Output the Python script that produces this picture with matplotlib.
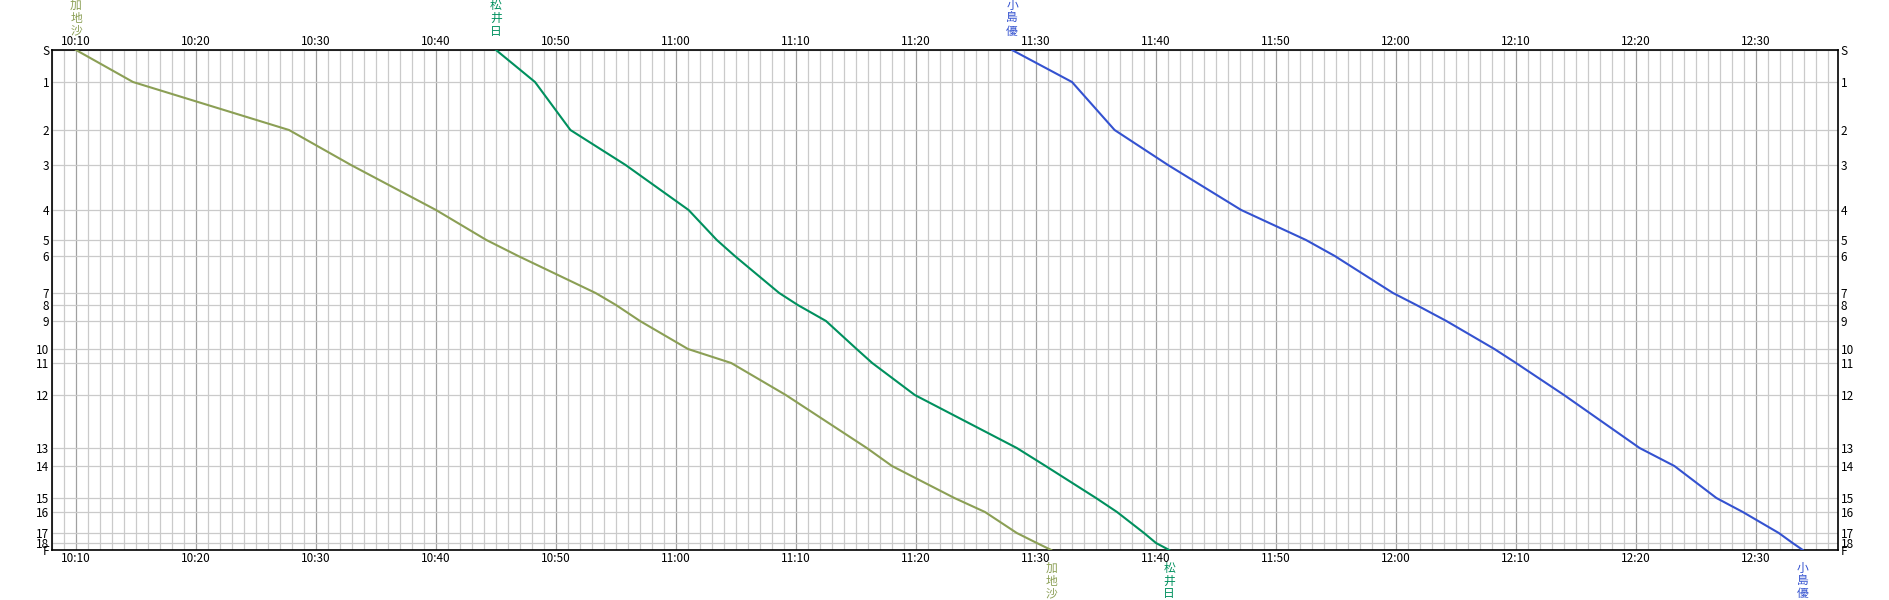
import datetime as dt
import matplotlib
matplotlib.use("Agg")
import matplotlib.pyplot as plt
import matplotlib.dates as mdates

plt.rcParams['font.family'] = ['Noto Sans CJK JP', 'DejaVu Sans']

# Controls and their cumulative course position (relative distance)
control_labels = ['S', '1', '2', '3', '4', '5', '6', '7', '8', '9', '10',
                  '11', '12', '13', '14', '15', '16', '17', '18', 'F']
control_pos = [0, 32, 80, 115, 160, 190, 206, 243, 255, 271, 299,
               313, 345, 398, 416, 448, 462, 483, 493, 500]

# Passing times at each control
kaji_times = ['10:10:00', '10:14:45', '10:27:45', '10:32:55', '10:40:00', '10:44:12',
              '10:46:51', '10:53:18', '10:55:00', '10:57:00', '11:01:00', '11:04:36',
              '11:09:09', '11:15:54', '11:18:00', '11:23:12', '11:25:45', '11:28:24',
              '11:30:04', '11:31:16']
matsui_times = ['10:45:00', '10:48:15', '10:51:12', '10:55:48', '11:01:03', '11:03:24',
                '11:04:54', '11:08:36', '11:10:09', '11:12:30', '11:15:03', '11:16:21',
                '11:19:54', '11:28:24', '11:30:48', '11:35:00', '11:36:45', '11:39:00',
                '11:40:00', '11:41:06']
kojima_times = ['11:28:00', '11:33:00', '11:36:33', '11:41:00', '11:47:06', '11:52:30',
                '11:54:54', '11:59:45', '12:01:42', '12:04:12', '12:08:12', '12:10:00',
                '12:14:00', '12:20:18', '12:23:12', '12:26:42', '12:28:54', '12:31:54',
                '12:33:03', '12:33:54']

runners = ['加地沙', '松井日', '小島優']
colors = ['#8b9f55', '#00905e', '#3452d0']

base = dt.datetime(2024, 1, 1)


def to_dt(s):
    h, m, sec = map(int, s.split(':'))
    return base.replace(hour=h, minute=m, second=sec)


fig = plt.figure(figsize=(18.9, 6), dpi=100)
ax = fig.add_axes([52 / 1890, 50 / 600, (1838 - 52) / 1890, 500 / 600])

for name, times, c in zip(runners, [kaji_times, matsui_times, kojima_times], colors):
    t = [to_dt(s) for s in times]
    ax.plot(t, control_pos, color=c, lw=1.5, zorder=3)
    # name above the start and below the finish, one character per line
    ax.annotate('\n'.join(name), xy=(t[0], 1), xycoords=('data', 'axes fraction'),
                xytext=(0, 9), textcoords='offset points', ha='center', va='bottom',
                color=c, fontsize=8.5, linespacing=0.98)
    ax.annotate('\n'.join(name), xy=(t[-1], 0), xycoords=('data', 'axes fraction'),
                xytext=(0, -8.5), textcoords='offset points', ha='center', va='top',
                color=c, fontsize=8.5, linespacing=0.98)

ax.set_xlim(to_dt('10:08:00'), to_dt('12:36:50'))
ax.set_ylim(500, 0)

ax.xaxis.set_major_locator(mdates.MinuteLocator(byminute=range(0, 60, 10)))
ax.xaxis.set_minor_locator(mdates.MinuteLocator())
ax.xaxis.set_major_formatter(mdates.DateFormatter('%H:%M'))
ax.set_yticks(control_pos)
ax.set_yticklabels(control_labels)

ax.tick_params(axis='x', which='both', length=0, pad=1.5, labelsize=8.5,
               top=True, labeltop=True, bottom=True, labelbottom=True)
ax.tick_params(axis='y', which='both', length=0, pad=2, labelsize=8.5,
               left=True, labelleft=True, right=True, labelright=True)

ax.grid(which='minor', axis='x', color='#cacaca', lw=0.9)
ax.grid(which='major', axis='x', color='#a0a0a0', lw=0.9)
ax.grid(which='major', axis='y', color='#cacaca', lw=0.9)
ax.set_axisbelow(True)

for sp in ax.spines.values():
    sp.set_color('black')
    sp.set_linewidth(1.2)

fig.savefig('out.png', dpi=100)
